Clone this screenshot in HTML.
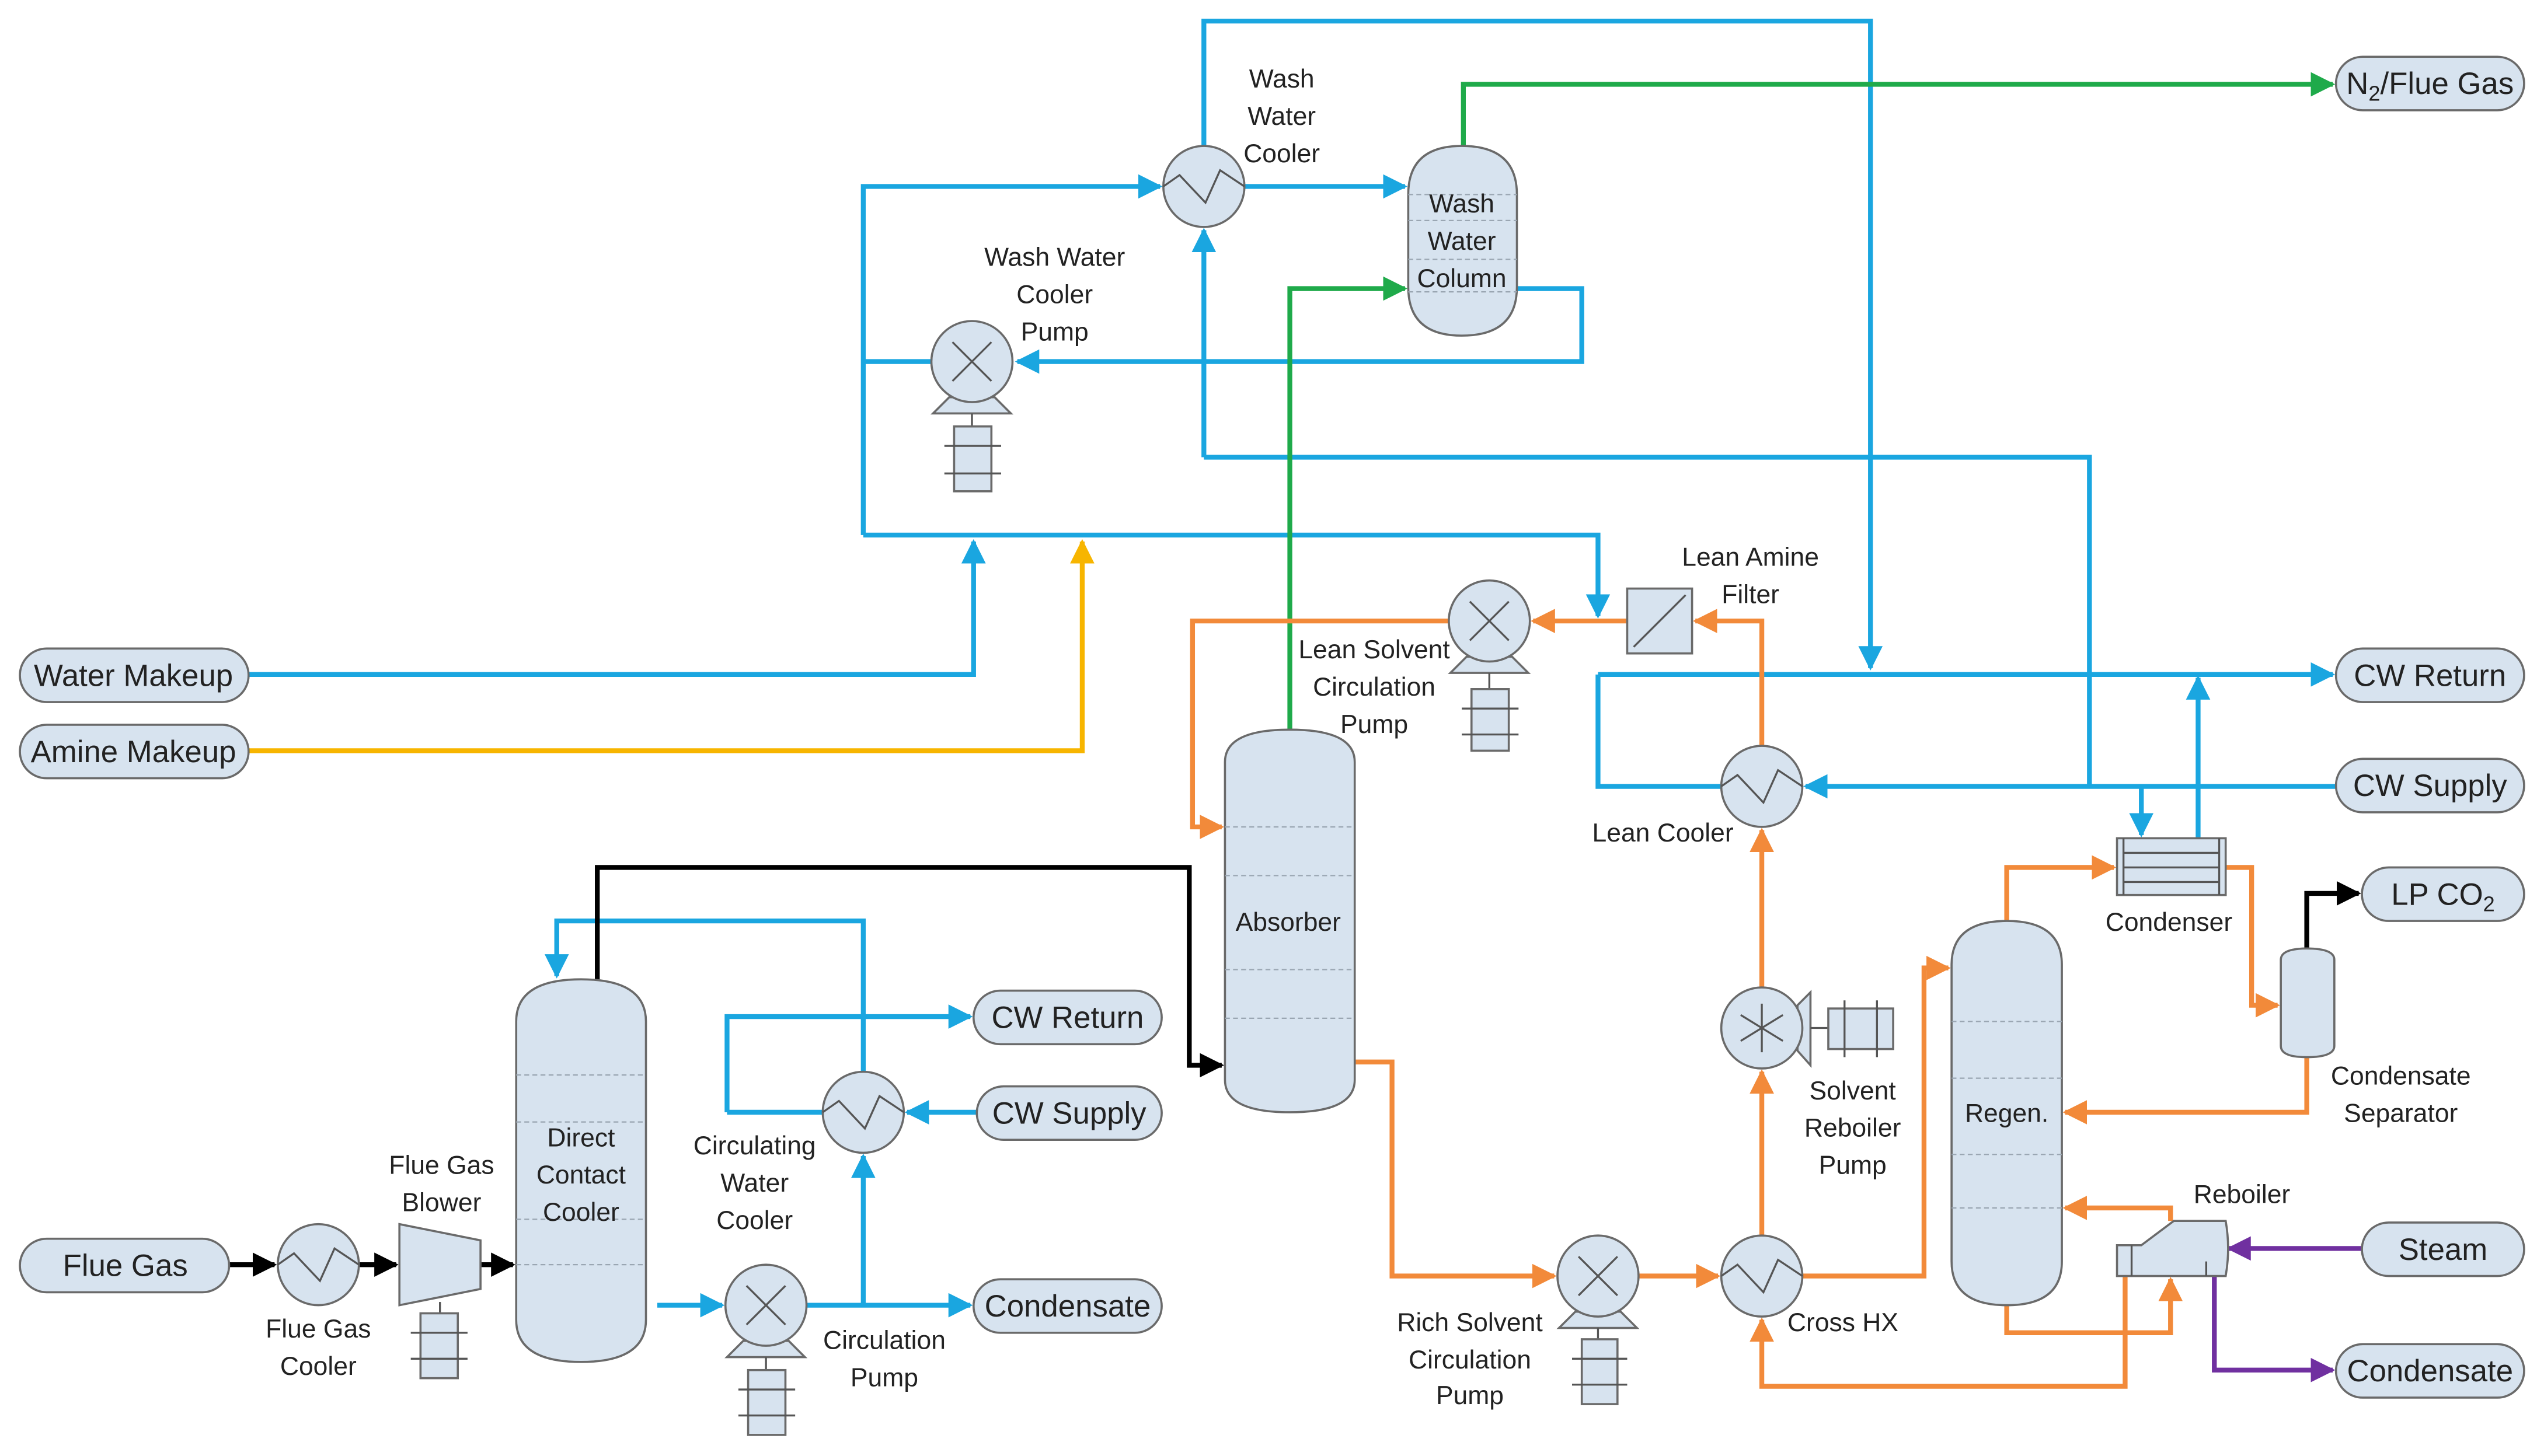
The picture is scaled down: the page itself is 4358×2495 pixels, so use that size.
<!DOCTYPE html>
<html><head><meta charset="utf-8"><style>
html,body{margin:0;padding:0;background:#fff}
svg{display:block}
text{font-family:"Liberation Sans",sans-serif;fill:#222}
.l{font-size:16px;text-anchor:middle}
.t{font-size:19px;text-anchor:middle}
.eq{fill:#d7e3ef;stroke:#6a6a6a;stroke-width:1.3}
.b{stroke:#1aa6e0;stroke-width:3;fill:none}
.o{stroke:#f28a3a;stroke-width:3;fill:none}
.g{stroke:#1faa4a;stroke-width:3;fill:none}
.y{stroke:#f7b500;stroke-width:3;fill:none}
.p{stroke:#7030a0;stroke-width:3;fill:none}
.k{stroke:#000;stroke-width:3;fill:none}
.tr{stroke:#9aa6b2;stroke-width:0.8;stroke-dasharray:3 2}
.th{stroke:#555;stroke-width:1.2;fill:none}
</style></head><body>
<svg width="4358" height="2495" viewBox="0 0 1568 898" xmlns="http://www.w3.org/2000/svg">
<defs>
<marker id="ab" viewBox="0 0 10 10" refX="9" refY="5" markerWidth="5" markerHeight="5" orient="auto"><path d="M0,0L10,5L0,10z" fill="#1aa6e0"/></marker>
<marker id="ao" viewBox="0 0 10 10" refX="9" refY="5" markerWidth="5" markerHeight="5" orient="auto"><path d="M0,0L10,5L0,10z" fill="#f28a3a"/></marker>
<marker id="ag" viewBox="0 0 10 10" refX="9" refY="5" markerWidth="5" markerHeight="5" orient="auto"><path d="M0,0L10,5L0,10z" fill="#1faa4a"/></marker>
<marker id="ay" viewBox="0 0 10 10" refX="9" refY="5" markerWidth="5" markerHeight="5" orient="auto"><path d="M0,0L10,5L0,10z" fill="#f7b500"/></marker>
<marker id="ap" viewBox="0 0 10 10" refX="9" refY="5" markerWidth="5" markerHeight="5" orient="auto"><path d="M0,0L10,5L0,10z" fill="#7030a0"/></marker>
<marker id="ak" viewBox="0 0 10 10" refX="9" refY="5" markerWidth="5" markerHeight="5" orient="auto"><path d="M0,0L10,5L0,10z" fill="#000"/></marker>
</defs>

<!-- BLUE lines -->
<path class="b" d="M742,90V13H1153V412" marker-end="url(#ab)"/>
<path class="b" d="M767,115H866" marker-end="url(#ab)"/>
<path class="b" d="M935,178H975V223H627" marker-end="url(#ab)"/>
<path class="b" d="M574,223H532"/>
<path class="b" d="M532,330V115H715" marker-end="url(#ab)"/>
<path class="b" d="M532,330H985V380" marker-end="url(#ab)"/>
<path class="b" d="M153,416H600V334" marker-end="url(#ab)"/>
<path class="b" d="M742,282V142" marker-end="url(#ab)"/>
<path class="b" d="M742,282H1288V485"/>
<path class="b" d="M985,416H1438" marker-end="url(#ab)"/>
<path class="b" d="M985,416V485H1061"/>
<path class="b" d="M1440,485H1113" marker-end="url(#ab)"/>
<path class="b" d="M1320,485V515" marker-end="url(#ab)"/>
<path class="b" d="M1355,517V418" marker-end="url(#ab)"/>
<path class="b" d="M532,661V568H343V602" marker-end="url(#ab)"/>
<path class="b" d="M448,686V627H598" marker-end="url(#ab)"/>
<path class="b" d="M448,686H507"/>
<path class="b" d="M602,686H559" marker-end="url(#ab)"/>
<path class="b" d="M405,805H445" marker-end="url(#ab)"/>
<path class="b" d="M497,805H598" marker-end="url(#ab)"/>
<path class="b" d="M532,805V713" marker-end="url(#ab)"/>

<!-- BLACK -->
<path class="k" d="M141,780H169" marker-end="url(#ak)"/>
<path class="k" d="M221,780H244" marker-end="url(#ak)"/>
<path class="k" d="M296,780H316" marker-end="url(#ak)"/>
<path class="k" d="M368,604V535H733V657H753" marker-end="url(#ak)"/>
<path class="k" d="M1422,585V551H1454" marker-end="url(#ak)"/>

<!-- GREEN -->
<path class="g" d="M902,90V52H1438" marker-end="url(#ag)"/>
<path class="g" d="M795,450V178H866" marker-end="url(#ag)"/>

<!-- YELLOW -->
<path class="y" d="M153,463H667V334" marker-end="url(#ay)"/>

<!-- ORANGE -->
<path class="o" d="M1086,460V383H1045" marker-end="url(#ao)"/>
<path class="o" d="M1003,383H945" marker-end="url(#ao)"/>
<path class="o" d="M893,383H735V510H753" marker-end="url(#ao)"/>
<path class="o" d="M835,655H858V787H958" marker-end="url(#ao)"/>
<path class="o" d="M1010,787H1059" marker-end="url(#ao)"/>
<path class="o" d="M1111,787H1186V597H1201" marker-end="url(#ao)"/>
<path class="o" d="M1086,762V661" marker-end="url(#ao)"/>
<path class="o" d="M1086,609V512" marker-end="url(#ao)"/>
<path class="o" d="M1237,568V535H1303" marker-end="url(#ao)"/>
<path class="o" d="M1372,535H1388V620H1404" marker-end="url(#ao)"/>
<path class="o" d="M1422,652V686H1273" marker-end="url(#ao)"/>
<path class="o" d="M1237,805V822H1338V789" marker-end="url(#ao)"/>
<path class="o" d="M1338,753V745H1273" marker-end="url(#ao)"/>
<path class="o" d="M1310,787V855H1086V814" marker-end="url(#ao)"/>

<!-- PURPLE -->
<path class="p" d="M1456,770H1374" marker-end="url(#ap)"/>
<path class="p" d="M1365,787V845H1438" marker-end="url(#ap)"/>

<!-- Columns -->
<path class="eq" d="M868,120Q868,90 901,90Q935,90 935,120V177Q935,207 901,207Q868,207 868,177Z"/>
<line class="tr" x1="868" y1="120" x2="935" y2="120"/><line class="tr" x1="868" y1="136" x2="935" y2="136"/><line class="tr" x1="868" y1="160" x2="935" y2="160"/><line class="tr" x1="868" y1="180" x2="935" y2="180"/>
<path class="eq" d="M755,470Q755,450 795,450Q835,450 835,470V666Q835,686 795,686Q755,686 755,666Z"/>
<line class="tr" x1="755" y1="510" x2="835" y2="510"/><line class="tr" x1="755" y1="540" x2="835" y2="540"/><line class="tr" x1="755" y1="598" x2="835" y2="598"/><line class="tr" x1="755" y1="628" x2="835" y2="628"/>
<path class="eq" d="M318,630Q318,604 358,604Q398,604 398,630V814Q398,840 358,840Q318,840 318,814Z"/>
<line class="tr" x1="318" y1="663" x2="398" y2="663"/><line class="tr" x1="318" y1="692" x2="398" y2="692"/><line class="tr" x1="318" y1="752" x2="398" y2="752"/><line class="tr" x1="318" y1="780" x2="398" y2="780"/>
<path class="eq" d="M1203,595Q1203,568 1237,568Q1271,568 1271,595V778Q1271,805 1237,805Q1203,805 1203,778Z"/>
<line class="tr" x1="1203" y1="630" x2="1271" y2="630"/><line class="tr" x1="1203" y1="665" x2="1271" y2="665"/><line class="tr" x1="1203" y1="712" x2="1271" y2="712"/><line class="tr" x1="1203" y1="745" x2="1271" y2="745"/>
<path class="eq" d="M1406,592Q1406,585 1422,585Q1439,585 1439,592V645Q1439,652 1422,652Q1406,652 1406,645Z"/>

<!-- Condenser -->
<rect class="eq" x="1305" y="517" width="67" height="35"/>
<path class="th" d="M1309,517V552M1368,517V552M1309,526H1368M1309,535H1368M1309,544H1368"/>
<!-- Reboiler -->
<path class="eq" d="M1305,773V787H1372Q1375,770 1372,753H1340L1320,768H1305Z"/>
<path class="th" d="M1314,768V787M1360,778V787"/>

<!-- Filter -->
<rect class="eq" x="1003" y="363" width="40" height="40"/>
<line class="th" x1="1007" y1="399" x2="1039" y2="367"/>

<!-- Heat exchangers -->
<g>
<circle class="eq" cx="742" cy="115" r="25"/><path class="th" d="M717,115L727,108L743,125L752,105L767,115"/>
<circle class="eq" cx="1086" cy="485" r="25"/><path class="th" d="M1061,485L1071,478L1087,495L1096,475L1111,485"/>
<circle class="eq" cx="1086" cy="787" r="25"/><path class="th" d="M1061,787L1071,780L1087,797L1096,777L1111,787"/>
<circle class="eq" cx="532" cy="686" r="25"/><path class="th" d="M507,686L517,679L533,696L542,676L557,686"/>
<circle class="eq" cx="196" cy="780" r="25"/><path class="th" d="M171,780L181,773L197,790L206,770L221,780"/>
</g>

<!-- Pumps -->
<g>
<path class="eq" d="M585,245L575,255H623L613,245Z"/><circle class="eq" cx="599" cy="223" r="25"/><path class="th" d="M587,211L611,235M611,211L587,235"/>
<line class="th" x1="599" y1="255" x2="599" y2="263"/><rect class="eq" x="588" y="263" width="23" height="40"/><path class="th" d="M582,275H617M582,292H617"/>

<path class="eq" d="M904,405L894,415H942L932,405Z"/><circle class="eq" cx="918" cy="383" r="25"/><path class="th" d="M906,371L930,395M930,371L906,395"/>
<line class="th" x1="918" y1="415" x2="918" y2="425"/><rect class="eq" x="907" y="425" width="23" height="38"/><path class="th" d="M901,437H936M901,453H936"/>

<path class="eq" d="M971,809L961,819H1009L999,809Z"/><circle class="eq" cx="985" cy="787" r="25"/><path class="th" d="M973,775L997,799M997,775L973,799"/>
<line class="th" x1="985" y1="819" x2="985" y2="826"/><rect class="eq" x="975" y="826" width="22" height="40"/><path class="th" d="M969,838H1003M969,854H1003"/>

<path class="eq" d="M458,827L448,837H496L486,827Z"/><circle class="eq" cx="472" cy="805" r="25"/><path class="th" d="M460,793L484,817M484,793L460,817"/>
<line class="th" x1="472" y1="837" x2="472" y2="845"/><rect class="eq" x="461" y="845" width="23" height="40"/><path class="th" d="M455,857H490M455,873H490"/>

<path class="eq" d="M1108,620L1116,612V657L1108,648Z"/><circle class="eq" cx="1086" cy="634" r="25"/><path class="th" d="M1086,619V649M1073,626L1099,642M1099,626L1073,642"/>
<line class="th" x1="1116" y1="634" x2="1127" y2="634"/><rect class="eq" x="1127" y="622" width="40" height="25"/><path class="th" d="M1137,617V652M1157,617V652"/>

<path class="eq" d="M246,755L296,765V795L246,805Z"/>
<line class="th" x1="271" y1="803" x2="271" y2="810"/><rect class="eq" x="259" y="810" width="23" height="40"/><path class="th" d="M253,822H288M253,838H288"/>
</g>

<!-- Terminals -->
<g class="eq">
<rect x="12" y="400" width="141" height="33" rx="16.5"/>
<rect x="12" y="447" width="141" height="33" rx="16.5"/>
<rect x="12" y="764" width="129" height="33" rx="16.5"/>
<rect x="1440" y="35" width="116" height="33" rx="16.5"/>
<rect x="1440" y="400" width="116" height="33" rx="16.5"/>
<rect x="1440" y="468" width="116" height="33" rx="16.5"/>
<rect x="1456" y="535" width="100" height="33" rx="16.5"/>
<rect x="1456" y="754" width="100" height="33" rx="16.5"/>
<rect x="1440" y="829" width="116" height="33" rx="16.5"/>
<rect x="600" y="611" width="116" height="33" rx="16.5"/>
<rect x="602" y="670" width="114" height="33" rx="16.5"/>
<rect x="600" y="789" width="116" height="33" rx="16.5"/>
</g>
<text class="t" x="82" y="423">Water  Makeup</text>
<text class="t" x="82" y="470">Amine Makeup</text>
<text class="t" x="77" y="787">Flue Gas</text>
<text class="t" x="1498" y="58">N<tspan font-size="13" dy="4">2</tspan><tspan dy="-4">/Flue Gas</tspan></text>
<text class="t" x="1498" y="423">CW Return</text>
<text class="t" x="1498" y="491">CW Supply</text>
<text class="t" x="1506" y="558">LP CO<tspan font-size="13" dy="4">2</tspan></text>
<text class="t" x="1506" y="777">Steam</text>
<text class="t" x="1498" y="852">Condensate</text>
<text class="t" x="658" y="634">CW Return</text>
<text class="t" x="659" y="693">CW Supply</text>
<text class="t" x="658" y="812">Condensate</text>

<!-- Labels -->
<g class="l">
<text x="790" y="54">Wash</text><text x="790" y="77">Water</text><text x="790" y="100">Cooler</text>
<text x="901" y="131">Wash</text><text x="901" y="154">Water</text><text x="901" y="177">Column</text>
<text x="650" y="164">Wash Water</text><text x="650" y="187">Cooler</text><text x="650" y="210">Pump</text>
<text x="1079" y="349">Lean Amine</text><text x="1079" y="372">Filter</text>
<text x="847" y="406">Lean Solvent</text><text x="847" y="429">Circulation</text><text x="847" y="452">Pump</text>
<text x="1025" y="519">Lean Cooler</text>
<text x="794" y="574">Absorber</text>
<text x="1337" y="574">Condenser</text>
<text x="1480" y="669">Condensate</text><text x="1480" y="692">Separator</text>
<text x="1237" y="692">Regen.</text>
<text x="1142" y="678">Solvent</text><text x="1142" y="701">Reboiler</text><text x="1142" y="724">Pump</text>
<text x="1382" y="742">Reboiler</text>
<text x="1136" y="821">Cross HX</text>
<text x="906" y="821">Rich Solvent</text><text x="906" y="844">Circulation</text><text x="906" y="866">Pump</text>
<text x="358" y="707">Direct</text><text x="358" y="730">Contact</text><text x="358" y="753">Cooler</text>
<text x="465" y="712">Circulating</text><text x="465" y="735">Water</text><text x="465" y="758">Cooler</text>
<text x="545" y="832">Circulation</text><text x="545" y="855">Pump</text>
<text x="272" y="724">Flue Gas</text><text x="272" y="747">Blower</text>
<text x="196" y="825">Flue Gas</text><text x="196" y="848">Cooler</text>
</g>
</svg>
</body></html>
